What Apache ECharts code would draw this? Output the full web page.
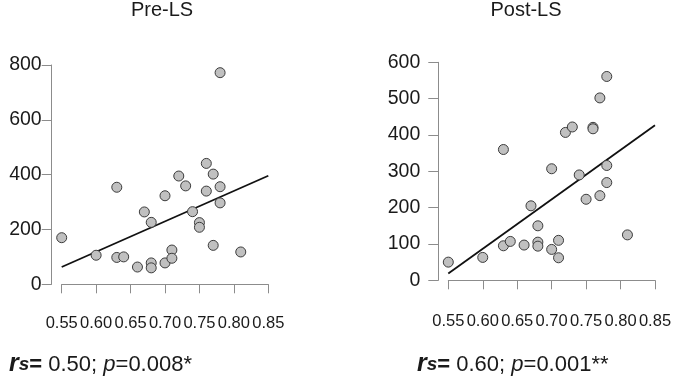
<!DOCTYPE html>
<html>
<head>
<meta charset="utf-8">
<script src="https://cdn.jsdelivr.net/npm/echarts@6/dist/echarts.min.js"></script>
<style>html,body{margin:0;padding:0;background:#fff;}#c{width:685px;height:385px;}</style>
</head>
<body>
<div id="c"></div>
<script>
// Pre-LS panel data
const preX = [0.55,0.60,0.63,0.63,0.64,0.66,0.67,0.68,0.68,0.68,0.70,0.70,0.71,0.71,0.72,0.73,0.74,0.75,0.75,0.76,0.76,0.77,0.77,0.78,0.78,0.78,0.81];
const preY = [170,106,354,98,100,63,264,226,78,60,323,78,125,95,395,359,265,225,208,441,340,402,142,772,356,297,118];
const preFitX = [0.55,0.85];
const preFitY = [63,396];
// Post-LS panel data
const postX = [0.55,0.60,0.63,0.63,0.64,0.66,0.67,0.68,0.68,0.68,0.70,0.70,0.71,0.71,0.72,0.73,0.74,0.75,0.76,0.76,0.77,0.77,0.78,0.78,0.78,0.81];
const postY = [50,63,360,95,107,97,205,150,105,94,307,85,110,62,407,422,290,223,421,417,502,233,561,316,269,125];
const postFitX = [0.55,0.85];
const postFitY = [19,427];
const titles = ['Pre-LS','Post-LS'];
const stats = [['0.50','0.008*'],['0.60','0.001**']];

const FONT = '"Liberation Sans", Arial, Helvetica, sans-serif';
const AXC = '#8c8c8c';
const TXT = '#1a1a1a';

function pairs(xs, ys){ return xs.map((x,i)=>[x, ys[i]]); }

function xAxisCfg(gi, off){
  return {
    type:'value', gridIndex:gi, min:0.55, max:0.85, interval:0.05, offset:off,
    axisLine:{show:true, lineStyle:{color:AXC, width:1}},
    axisTick:{show:true, length:9, lineStyle:{color:AXC, width:1}},
    axisLabel:{color:TXT, fontSize:16.5, fontFamily:FONT, margin:20, showMinLabel:true, showMaxLabel:true,
      hideOverlap:false, formatter:v=>v.toFixed(2)},
    splitLine:{show:false}
  };
}
function yAxisCfg(gi, max, step, margin){
  return {
    type:'value', gridIndex:gi, min:0, max:max, interval:step, offset:10,
    axisLine:{show:true, lineStyle:{color:AXC, width:1}},
    axisTick:{show:true, length:10, lineStyle:{color:AXC, width:1}},
    axisLabel:{color:TXT, fontSize:19.5, fontFamily:FONT, margin:margin, showMinLabel:true, showMaxLabel:true},
    splitLine:{show:false}
  };
}
function scatter(gi, xs, ys){
  return {type:'scatter', xAxisIndex:gi, yAxisIndex:gi, data:pairs(xs,ys), symbolSize:10, clip:false,
    itemStyle:{color:'#c0c0c0', borderColor:'#3c3c3c', borderWidth:1, opacity:1}, z:3};
}
function fit(gi, xs, ys){
  return {type:'line', xAxisIndex:gi, yAxisIndex:gi, data:pairs(xs,ys), symbol:'none', clip:false,
    lineStyle:{color:'#111', width:1.8}, z:2};
}
function statText(x, s){
  return {type:'text', left:x, top:352, style:{
    text:'{r|r}{s|s}{e|=} ' + s[0] + '; {p|p}=' + s[1],
    font:'22px ' + FONT, fill:TXT,
    rich:{
      r:{fontSize:25, fontWeight:'bold', fontStyle:'italic', fontFamily:FONT, fill:TXT},
      s:{fontSize:19, fontWeight:'bold', fontStyle:'italic', fontFamily:FONT, fill:TXT},
      e:{fontSize:22, fontWeight:'bold', fontFamily:FONT, fill:TXT},
      p:{fontSize:22, fontStyle:'italic', fontFamily:FONT, fill:TXT}
    }
  }};
}

const chart = echarts.init(document.getElementById('c'), null, {renderer:'canvas'});
chart.setOption({
  animation:false,
  backgroundColor:'#fff',
  grid:[
    {left:61.7, right:416.7, top:65, bottom:100.7},
    {left:448.3, right:30, top:62.3, bottom:104.7}
  ],
  xAxis:[xAxisCfg(0, 10.7), xAxisCfg(1, 12.4)],
  yAxis:[yAxisCfg(0, 800, 200, 10), yAxisCfg(1, 600, 100, 18)],
  series:[
    scatter(0, preX, preY), fit(0, preFitX, preFitY),
    scatter(1, postX, postY), fit(1, postFitX, postFitY)
  ],
  graphic:[
    {type:'text', x:162, y:10, style:{text:titles[0], font:'20px ' + FONT, fill:TXT, textAlign:'center', textVerticalAlign:'middle'}},
    {type:'text', x:526, y:10, style:{text:titles[1], font:'20px ' + FONT, fill:TXT, textAlign:'center', textVerticalAlign:'middle'}},
    statText(9, stats[0]),
    statText(417, stats[1])
  ]
});
</script>
</body>
</html>
